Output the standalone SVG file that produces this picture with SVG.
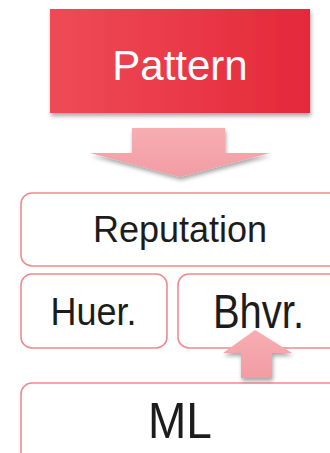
<svg xmlns="http://www.w3.org/2000/svg" width="330" height="453" viewBox="0 0 330 453">
<defs>
<style>
.box{fill:#ffffff;stroke:#f08a8e;stroke-width:1.6}
.lbl{font-family:"Liberation Sans",Arial,sans-serif;fill:#1c1c1c;text-anchor:middle}
.arrow{fill:url(#pinkGrad)}
</style>
<linearGradient id="redGrad" x1="0" y1="0" x2="1" y2="0">
<stop offset="0" stop-color="#ee4b56"/>
<stop offset="1" stop-color="#e5283a"/>
</linearGradient>
<linearGradient id="pinkGrad" x1="0" y1="0" x2="0" y2="1">
<stop offset="0" stop-color="#f6aeb3"/>
<stop offset="1" stop-color="#f29ca3"/>
</linearGradient>
<filter id="sh" x="-20%" y="-20%" width="140%" height="150%">
<feGaussianBlur in="SourceAlpha" stdDeviation="2"/>
<feOffset dx="1" dy="3"/>
<feComponentTransfer><feFuncA type="linear" slope="0.35"/></feComponentTransfer>
<feMerge><feMergeNode/><feMergeNode in="SourceGraphic"/></feMerge>
</filter>
</defs>
<rect width="330" height="453" fill="#ffffff"/>
<g id="pattern">
<rect x="50" y="9" width="260" height="104" fill="url(#redGrad)" filter="url(#sh)"/>
<text x="180" y="80" font-family="Liberation Sans, Arial, sans-serif" font-size="42" fill="#ffffff" text-anchor="middle">Pattern</text>
</g>
<g id="reputation">
<rect class="box" x="21" y="193" width="330" height="73" rx="11"/>
<text class="lbl" x="180" y="242" font-size="36">Reputation</text>
</g>
<g id="huer">
<rect class="box" x="21" y="274" width="146" height="74" rx="11"/>
<text class="lbl" transform="translate(93.5 325) scale(1 1.1)" font-size="36">Huer.</text>
</g>
<g id="bhvr">
<rect class="box" x="178" y="274" width="170" height="74" rx="11"/>
<text class="lbl" transform="translate(258.5 328) scale(1 1.2)" font-size="40">Bhvr.</text>
</g>
<g id="ml">
<rect class="box" x="21" y="383" width="330" height="90" rx="11"/>
<text class="lbl" transform="translate(180 438) scale(1 1.1)" font-size="46">ML</text>
</g>
<g id="connectors">
<polygon class="arrow" filter="url(#sh)" points="132,128 225,128 225,153 270,153 180,177 90,153 132,153"/>
<polygon class="arrow" filter="url(#sh)" points="255,330 292,353 272,353 272,378 241,378 241,353 223,353"/>
</g>
</svg>
